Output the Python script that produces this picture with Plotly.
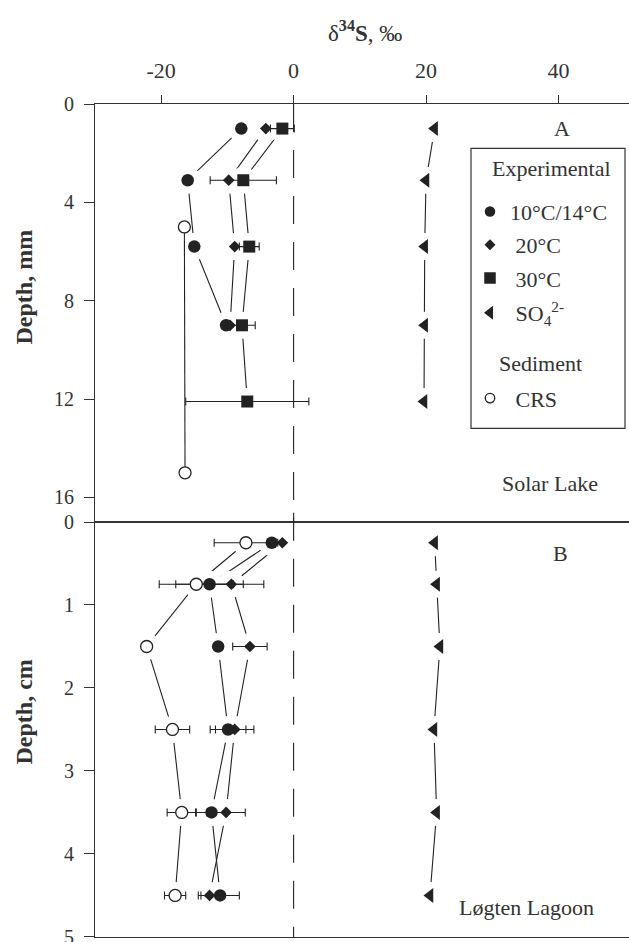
import plotly.graph_objects as go

# ---------------- data ----------------
# Panel A - Solar Lake, depth in mm
depth_a = [1.0, 3.1, 5.8, 9.0, 12.1]
a_10_14 = [-7.9, -16.0, -15.0, -10.2]
a_20 = [-4.2, -9.8, -8.9, -9.6]
a_30 = [-1.7, -7.6, -6.7, -7.8, -7.0]
a_30_err = [1.8, 5.0, 1.5, 2.0, 9.3]
a_so4 = [21.3, 20.0, 19.8, 19.8, 19.7]
crs_depth_a = [5.0, 15.0]
a_crs = [-16.5, -16.4]

# Panel B - Løgten Lagoon, depth in cm
depth_b = [0.25, 0.75, 1.5, 2.5, 3.5, 4.5]
b_10_14 = [-3.3, -12.7, -11.4, -9.9, -12.4, -11.1]
b_10_14_err = [None, 5.1, None, 2.7, 2.4, 2.9]
b_20 = [-1.7, -9.4, -6.6, -8.9, -10.2, -12.7]
b_20_err = [None, 4.9, 2.6, 2.9, 2.9, 1.7]
b_so4 = [21.3, 21.6, 22.1, 21.2, 21.6, 20.6]
b_crs = [-7.2, -14.7, -22.2, -18.3, -16.9, -17.9]
b_crs_err = [4.8, 5.6, None, 2.6, 2.2, 1.6]

x_ticks = [-20, 0, 20, 40]
ya_ticks = [0, 4, 8, 12, 16]
yb_ticks = [0, 1, 2, 3, 4, 5]

# ---------------- styling ----------------
INK = "#222222"
TXT = "#333333"
SERIF = "Liberation Serif, Times New Roman, serif"

# geometry of the page (pixels)
W, H = 629, 942
ML, MR, MT, MB = 95, 0, 104, 5
PW, PH = W - ML - MR, H - MT - MB


def px_x(p):
    return (p - ML) / PW


def px_y(p):
    return (H - MB - p) / PH


STYLE = {
    "c1014": dict(symbol="circle", size=12.5, color=INK, line=dict(width=0)),
    "c20": dict(symbol="diamond", size=9, color=INK, line=dict(width=0)),
    "c30": dict(symbol="square", size=12, color=INK, line=dict(width=0)),
    "so4": dict(symbol="triangle-left", size=13, color=INK, line=dict(width=0)),
    "crs": dict(symbol="circle", size=12, color="white", line=dict(width=1.3, color=INK)),
}

series = [
    # (key, panel, xvals, depths, xerr)
    ("c1014", "a", a_10_14, depth_a[:4], None),
    ("c20", "a", a_20, depth_a[:4], None),
    ("c30", "a", a_30, depth_a, a_30_err),
    ("so4", "a", a_so4, depth_a, None),
    ("crs", "a", a_crs, crs_depth_a, None),
    ("c1014", "b", b_10_14, depth_b, b_10_14_err),
    ("c20", "b", b_20, depth_b, b_20_err),
    ("so4", "b", b_so4, depth_b, None),
    ("crs", "b", b_crs, depth_b, b_crs_err),
]

AX = {"a": ("x", "y"), "b": ("x2", "y2")}

fig = go.Figure()

# 1) connecting lines
for key, panel, xs, ds, err in series:
    if key == "crs" and panel == "a":
        continue
    xa, ya = AX[panel]
    fig.add_trace(go.Scatter(x=xs, y=ds, xaxis=xa, yaxis=ya, mode="lines",
                             line=dict(color=INK, width=1.1),
                             showlegend=False, hoverinfo="skip"))

# 2) white halos so the lines stop short of the symbols
for key, panel, xs, ds, err in series:
    if key == "crs" and panel == "a":
        continue
    xa, ya = AX[panel]
    fig.add_trace(go.Scatter(x=xs, y=ds, xaxis=xa, yaxis=ya, mode="markers",
                             marker=dict(symbol="circle", size=27, color="#ffffff",
                                         opacity=1, line=dict(width=0)),
                             showlegend=False, hoverinfo="skip"))

# 3) CRS profile in panel A
fig.add_trace(go.Scatter(x=a_crs, y=crs_depth_a, xaxis="x", yaxis="y", mode="lines",
                         line=dict(color=INK, width=1.1),
                         showlegend=False, hoverinfo="skip"))

# 4) symbols with error bars
for key, panel, xs, ds, err in series:
    xa, ya = AX[panel]
    kw = {}
    if err is not None:
        kw["error_x"] = dict(type="data", array=err, symmetric=True, color=INK,
                             thickness=1.1, width=4)
    fig.add_trace(go.Scatter(x=xs, y=ds, xaxis=xa, yaxis=ya, mode="markers",
                             marker=STYLE[key], showlegend=False, **kw))

# ---------------- legend entries ----------------
legend_items = [
    ("c1014", "10°C/14°C", 211.7, 10.5),
    ("c20", "\u00a020°C", 245.0, 8.5),
    ("c30", "\u00a030°C", 278.3, 11.5),
    ("so4", "\u00a0SO<sub>4</sub><sup>2-</sup>", 313.0, 12),
    ("crs", "\u00a0CRS", 398.3, 9.5),
]
legend_layouts = {}
for i, (key, name, ypx, sz) in enumerate(legend_items):
    lname = "legend" if i == 0 else f"legend{i + 1}"
    m = dict(STYLE[key])
    m["size"] = sz
    fig.add_trace(go.Scatter(x=[None], y=[None], mode="markers", marker=m,
                             name=name, legend=lname, showlegend=True))
    legend_layouts[lname] = dict(
        x=px_x(470), y=px_y(ypx), xanchor="left", yanchor="middle",
        bgcolor="rgba(0,0,0,0)", borderwidth=0,
        font=dict(family=SERIF, size=22, color=TXT), itemsizing="trace",
    )

# ---------------- axes ----------------
split = 415 / PH
axis_common = dict(showline=True, linecolor=TXT, linewidth=1.2, showgrid=False,
                   zeroline=False, tickcolor=TXT, tickwidth=1.2, automargin=False)

fig.update_layout(
    width=W, height=H,
    margin=dict(l=ML, r=MR, t=MT, b=MB, autoexpand=False),
    paper_bgcolor="white", plot_bgcolor="white",
    xaxis=dict(domain=[0, 1], range=[-30, 50.66], anchor="y", side="top",
               tickvals=x_ticks, ticktext=[str(v) for v in x_ticks],
               ticks="outside", ticklen=8, mirror=True, ticklabelstandoff=8,
               tickfont=dict(family=SERIF, size=22, color=TXT), **axis_common),
    yaxis=dict(domain=[split, 1], range=[17, 0], anchor="x",
               tickvals=ya_ticks, ticks="outside", ticklen=10,
               ticklabelstandoff=6, ticklabeloverflow="allow",
               tickfont=dict(family=SERIF, size=20, color=TXT), **axis_common),
    xaxis2=dict(domain=[0, 1], range=[-30, 50.66], anchor="y2", matches="x",
                tickvals=x_ticks, ticks="", showticklabels=False, mirror=True,
                **axis_common),
    yaxis2=dict(domain=[0, split], range=[5.001, 0], anchor="x2",
                tickvals=yb_ticks, ticks="outside", ticklen=10,
                ticklabelstandoff=6, ticklabeloverflow="allow",
                tickfont=dict(family=SERIF, size=20, color=TXT), **axis_common),
    showlegend=True,
    **legend_layouts,
)

# dashed zero lines
fig.add_shape(type="line", xref="x", yref="y domain", x0=0, x1=0, y0=1, y1=0,
              line=dict(color=INK, width=1.1, dash="28px,18px"), layer="above")
fig.add_shape(type="line", xref="x2", yref="y2 domain", x0=0, x1=0, y0=1.022, y1=0,
              line=dict(color=INK, width=1.1, dash="28px,18px"), layer="above")

# legend frame
fig.add_shape(type="rect", xref="paper", yref="paper",
              x0=px_x(471), x1=px_x(625), y0=px_y(428.3), y1=px_y(148.3),
              line=dict(color=TXT, width=1.2), fillcolor="rgba(0,0,0,0)", layer="above")

# ---------------- text ----------------
def note(text, xpx, ypx, size=21, xanchor="center", bold=False, angle=0):
    fig.add_annotation(text=f"<b>{text}</b>" if bold else text,
                       x=px_x(xpx), y=px_y(ypx), xref="paper", yref="paper",
                       xanchor=xanchor, yanchor="middle", showarrow=False,
                       textangle=angle,
                       font=dict(family=SERIF, size=size, color=TXT))


note("δ<sup><b>34</b></sup><b>S</b>, ‰", 365, 31, size=23)
note("Depth, mm", 23, 287.5, size=24, bold=True, angle=-90)
note("Depth, cm", 23, 712.5, size=24, bold=True, angle=-90)
note("A", 562, 128, size=22)
note("B", 560, 553, size=22)
note("Solar Lake", 550, 483, size=22)
note("Løgten Lagoon", 526, 907, size=22)
note("Experimental", 490, 168.3, size=22, xanchor="left")
note("Sediment", 496.7, 363.3, size=22, xanchor="left")

fig.write_html("out.html")
